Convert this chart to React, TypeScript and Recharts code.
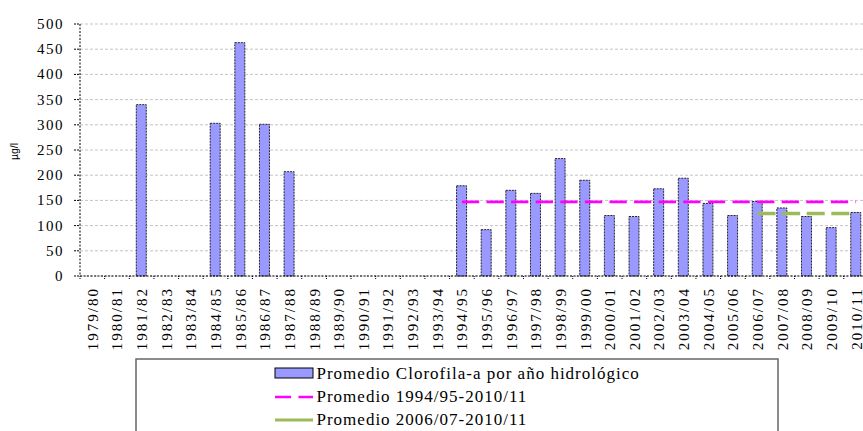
import React from 'react';
import { ComposedChart, Bar, Line, XAxis, YAxis, CartesianGrid } from 'recharts';

const categories = [
  '1979/80', '1980/81', '1981/82', '1982/83', '1983/84', '1984/85', '1985/86', '1986/87',
  '1987/88', '1988/89', '1989/90', '1990/91', '1991/92', '1992/93', '1993/94', '1994/95',
  '1995/96', '1996/97', '1997/98', '1998/99', '1999/00', '2000/01', '2001/02', '2002/03',
  '2003/04', '2004/05', '2005/06', '2006/07', '2007/08', '2008/09', '2009/10', '2010/11',
];

const clorofila: (number | null)[] = [
  null, null, 340, null, null, 303, 463, 301,
  207, null, null, null, null, null, null, 179,
  92, 170, 164, 233, 190, 120, 118, 173,
  194, 144, 120, 148, 135, 118, 96, 126,
];

// Period averages
const avg1Value = 147;
const avg1From = '1994/95';
const avg2Value = 124;
const avg2From = '2006/07';

const yTicks = [0, 50, 100, 150, 200, 250, 300, 350, 400, 450, 500];

const legendLabels = [
  'Promedio Clorofila-a por año hidrológico',
  'Promedio 1994/95-2010/11',
  'Promedio 2006/07-2010/11',
];

const data = categories.map((cat, i) => ({
  cat,
  clorofila: clorofila[i],
  avg1: i >= categories.indexOf(avg1From) ? avg1Value : null,
  avg2: i >= categories.indexOf(avg2From) ? avg2Value : null,
}));

const CHART_W = 880;
const CHART_H = 431;
const PLOT_LEFT = 80;
const PLOT_RIGHT = 868.4;
const PLOT_TOP = 24;
const PLOT_BOTTOM = 276;
const X_AXIS_H = 100;
const X_TICK_SIZE = 4;
const X_TICK_MARGIN = 6;
const BAND = (PLOT_RIGHT - PLOT_LEFT) / categories.length;

const SERIF = 'Liberation Serif, DejaVu Serif, serif';
const SANS = 'Liberation Sans, Arial, sans-serif';

const XTick = (props: any) => {
  const { x, y, payload } = props;
  const axisY = y - X_TICK_SIZE - X_TICK_MARGIN;
  const bx = x - BAND / 2;
  return (
    <g>
      <line x1={bx} y1={axisY} x2={bx} y2={axisY + 4} stroke="#000" strokeDasharray="1 1" />
      <text
        x={0}
        y={0}
        transform={`translate(${x + 0.5},${y + 1}) rotate(-90)`}
        textAnchor="end"
        dominantBaseline="central"
        style={{ fontFamily: SERIF, fontSize: 15, letterSpacing: 2 }}
        fill="#000"
      >
        {payload.value}
      </text>
    </g>
  );
};

const YTick = (props: any) => {
  const { x, y, payload } = props;
  return (
    <text
      x={x}
      y={y}
      textAnchor="end"
      dominantBaseline="central"
      style={{ fontFamily: SERIF, fontSize: 15, letterSpacing: 1.5 }}
      fill="#000"
    >
      {payload.value}
    </text>
  );
};

const YLabel = (props: any) => {
  const vb = props.viewBox || { x: 0, y: PLOT_TOP, height: PLOT_BOTTOM - PLOT_TOP };
  const cx = 13.5;
  const cy = vb.y + vb.height / 2 + 1.5;
  return (
    <text
      x={0}
      y={0}
      transform={`translate(${cx},${cy}) rotate(-90)`}
      textAnchor="middle"
      dominantBaseline="central"
      style={{ fontFamily: SANS, fontSize: 10.5 }}
      fill="#000"
    >
      µg/l
    </text>
  );
};

const legendTextStyle = { fontFamily: SERIF, fontSize: 17, letterSpacing: 1 };

export default function App() {
  return (
    <div
      style={{
        position: 'absolute',
        left: 0,
        top: 0,
        width: 863,
        height: 431,
        overflow: 'hidden',
        background: '#fff',
      }}
    >
      <ComposedChart
        width={CHART_W}
        height={CHART_H}
        data={data}
        margin={{
          top: PLOT_TOP,
          right: CHART_W - PLOT_RIGHT,
          left: 0,
          bottom: CHART_H - PLOT_BOTTOM - X_AXIS_H,
        }}
      >
        <CartesianGrid vertical={false} stroke="#c4c4c4" strokeDasharray="3 2" />
        <XAxis
          dataKey="cat"
          interval={0}
          height={X_AXIS_H}
          tickLine={false}
          tickSize={X_TICK_SIZE}
          tickMargin={X_TICK_MARGIN}
          axisLine={{ stroke: '#000', strokeDasharray: '2 1.5' }}
          tick={XTick}
        />
        <YAxis
          type="number"
          width={PLOT_LEFT}
          domain={[0, 500]}
          ticks={yTicks}
          interval={0}
          tickSize={6}
          tickMargin={10}
          axisLine={{ stroke: '#000', strokeDasharray: '2 1.5' }}
          tickLine={{ stroke: '#000', strokeDasharray: '2 1' }}
          tick={YTick}
          label={<YLabel />}
        />
        <Bar
          dataKey="clorofila"
          barSize={10}
          fill="#9999FF"
          stroke="#111"
          strokeWidth={0.9}
          strokeDasharray="2 1"
          isAnimationActive={false}
        />
        <Line
          type="linear"
          dataKey="avg1"
          stroke="#FF00FF"
          strokeWidth={2.6}
          strokeDasharray="17.3 7.3"
          dot={false}
          activeDot={false}
          isAnimationActive={false}
        />
        <Line
          type="linear"
          dataKey="avg2"
          stroke="#9BBB59"
          strokeWidth={3.4}
          strokeDasharray="18 6.6"
          dot={false}
          activeDot={false}
          isAnimationActive={false}
        />
      </ComposedChart>
      <svg
        width={863}
        height={431}
        style={{ position: 'absolute', left: 0, top: 0, pointerEvents: 'none' }}
      >
        <rect x={136} y={359} width={642} height={90} fill="none" stroke="#666" strokeWidth={1.5} />
        <rect x={275} y={368} width={38} height={10} fill="#9999FF" stroke="#000" strokeWidth={1} />
        <text x={316.5} y={378.5} style={legendTextStyle} fill="#000">
          {legendLabels[0]}
        </text>
        <line x1={275} y1={397} x2={313} y2={397} stroke="#FF00FF" strokeWidth={2.5} strokeDasharray="16 7.5" />
        <text x={316.5} y={402} style={legendTextStyle} fill="#000">
          {legendLabels[1]}
        </text>
        <line x1={275} y1={420} x2={313} y2={420} stroke="#9BBB59" strokeWidth={3} />
        <text x={316.5} y={425} style={legendTextStyle} fill="#000">
          {legendLabels[2]}
        </text>
      </svg>
    </div>
  );
}
